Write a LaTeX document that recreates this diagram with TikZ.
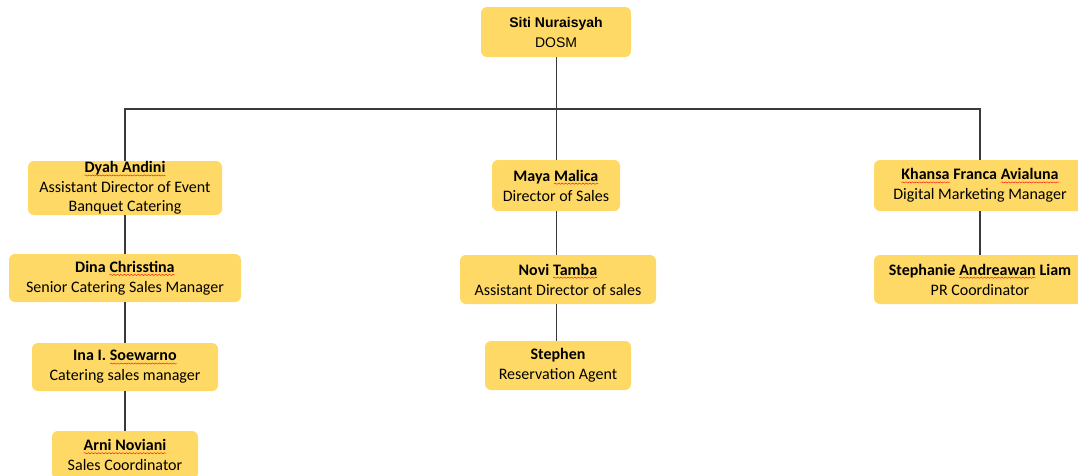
\documentclass[tikz,border=0pt]{standalone}
\usepackage{fontspec}
\usepackage{xcolor}
\usetikzlibrary{decorations.pathmorphing}
\setmainfont{Carlito}
\newfontfamily\arialfont{Liberation Sans}
\definecolor{cardyellow}{RGB}{255,217,102}
\definecolor{linegray}{RGB}{58,58,58}
\newcommand\sqg[1]{\tikz[baseline=(w.base), sharp corners]{%
  \node[inner sep=0pt, outer sep=0pt, minimum width=0pt, minimum height=0pt, fill=none, draw=none, align=none] (w) {#1};
  \draw[red, line width=0.3pt, decorate, decoration={snake, amplitude=0.45pt, segment length=2.6pt}]
    ([yshift=-2pt]w.base west) -- ([yshift=-2pt]w.base east);}}

\begin{document}
\begin{tikzpicture}[x=0.75pt, y=-0.75pt,
  card/.style={fill=cardyellow, rounded corners=4.5pt, inner sep=0pt, align=center,
    font=\fontsize{12}{15}\selectfont},
  link/.style={draw=linegray, line width=1.1pt}]
\useasboundingbox (0,0) rectangle (1078,475);

% Top
\node[card, minimum width=150*0.75pt, minimum height=50*0.75pt, font=\arialfont\fontsize{10.5}{15}\selectfont] (siti) at (556,32) {\textbf{Siti Nuraisyah}\\DOSM};
\coordinate (bus) at (556.7,109);

% Left column
\node[card, minimum width=194*0.75pt, minimum height=54*0.75pt, font=\fontsize{12}{14.6}\selectfont] (dyah) at (125,188) {\textbf{\sqg{Dyah Andini}}\\Assistant Director of Event\\Banquet Catering};
\node[card, minimum width=232*0.75pt, minimum height=48*0.75pt] (dina) at (125,278) {\textbf{Dina \sqg{Chrisstina}}\\Senior Catering Sales Manager};
\node[card, minimum width=186*0.75pt, minimum height=48*0.75pt] (ina) at (125,367) {\textbf{Ina I. \sqg{Soewarno}}\\Catering sales manager};
\node[card, minimum width=146*0.75pt, minimum height=48*0.75pt] (arni) at (125,455) {\textbf{\sqg{Arni Noviani}}\\Sales Coordinator};

% Middle column
\node[card, minimum width=128*0.75pt, minimum height=51*0.75pt] (maya) at (556,185.5) {\textbf{Maya \sqg{Malica}}\\Director of Sales};
\node[card, minimum width=196*0.75pt, minimum height=49*0.75pt] (novi) at (558,279.5) {\textbf{Novi \sqg{Tamba}}\\Assistant Director of sales};
\node[card, minimum width=146*0.75pt, minimum height=49*0.75pt] (stephen) at (558,365.5) {\textbf{Stephen}\\Reservation Agent};

% Right column
\node[card, minimum width=212*0.75pt, minimum height=51*0.75pt] (khansa) at (980,185.5) {\textbf{\sqg{Khansa} Franca \sqg{Avialuna}}\\Digital Marketing Manager};
\node[card, minimum width=212*0.75pt, minimum height=49*0.75pt] (stephanie) at (980,279.5) {\textbf{Stephanie \sqg{Andreawan} Liam}\\PR Coordinator};

% Links
\draw[link] (siti.south -| bus) -- (maya.north -| bus);
\draw[link] (dyah.north) |- (bus) -| (khansa.north);
\draw[link] (dyah) -- (dina);
\draw[link] (dina) -- (ina);
\draw[link] (ina) -- (arni);
\draw[link] (maya.south -| bus) -- (novi.north -| bus);
\draw[link] (novi.south -| bus) -- (stephen.north -| bus);
\draw[link] (khansa) -- (stephanie);
\end{tikzpicture}
\end{document}
